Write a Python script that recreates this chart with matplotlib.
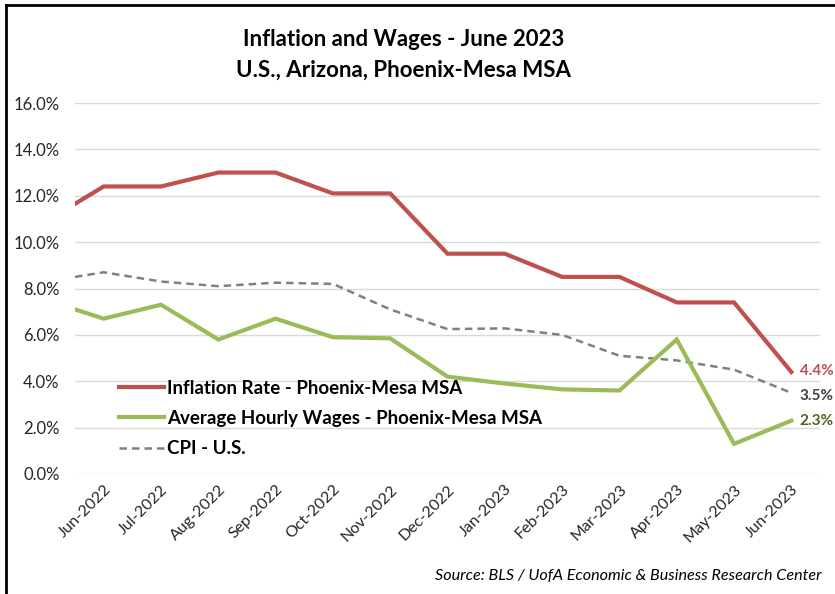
import matplotlib
matplotlib.use("Agg")
import matplotlib.pyplot as plt
import numpy as np
from matplotlib.lines import Line2D

plt.rcParams['font.family'] = ['Lato', 'DejaVu Sans']

# Data
months = ["Jun-2022", "Jul-2022", "Aug-2022", "Sep-2022", "Oct-2022", "Nov-2022",
          "Dec-2022", "Jan-2023", "Feb-2023", "Mar-2023", "Apr-2023", "May-2023", "Jun-2023"]
# value where each line enters at the left edge of the plot area
edge_inflation = 11.65
edge_wages = 7.1
edge_cpi = 8.5
inflation_phx = [12.4, 12.4, 13.0, 13.0, 12.1, 12.1, 9.5, 9.5, 8.5, 8.5, 7.4, 7.4, 4.4]
wages_phx = [6.7, 7.3, 5.8, 6.7, 5.9, 5.85, 4.2, 3.9, 3.65, 3.6, 5.8, 1.3, 2.3]
cpi_us = [8.7, 8.3, 8.1, 8.25, 8.2, 7.1, 6.25, 6.28, 6.0, 5.1, 4.9, 4.5, 3.5]
y_ticks = [0, 2, 4, 6, 8, 10, 12, 14, 16]

RED = "#C0504D"
GREEN = "#9BBB59"
GRAY = "#808080"

fig = plt.figure(figsize=(8.35, 5.94), dpi=100)
W, H = 835, 594
ax = fig.add_axes([75 / W, 1 - 474 / H, (820 - 75) / W, (474 - 103) / H])

n = len(months)
xlo, xhi = -0.5, n - 0.5
xs = np.r_[xlo, np.arange(n)]

ax.plot(xs, [edge_inflation] + inflation_phx, color=RED, lw=3, solid_joinstyle='miter', zorder=4)
ax.plot(xs, [edge_wages] + wages_phx, color=GREEN, lw=3, solid_joinstyle='miter', zorder=4)
ax.plot(xs, [edge_cpi] + cpi_us, color=GRAY, lw=1.8, ls=(0, (3, 2)), zorder=3)

ax.set_xlim(xlo, xhi)
ax.set_ylim(0, 16)
ax.set_yticks(y_ticks)
ax.set_yticklabels([f"{v:.1f}%" for v in y_ticks], fontsize=12, color="#262626")
ax.set_xticks(np.arange(n))
ax.set_xticklabels(months, rotation=45, ha='right', rotation_mode='anchor', fontsize=11.5, color="#262626")
ax.tick_params(axis='both', length=0)
ax.tick_params(axis='y', pad=11)
ax.tick_params(axis='x', pad=6)
for s in ax.spines.values():
    s.set_visible(False)
ax.grid(axis='y', color="#D9D9D9", lw=1)
ax.set_axisbelow(True)

# end labels
ax.annotate(f"{inflation_phx[-1]:.1f}%", (n - 1, inflation_phx[-1]), xytext=(6, 1), textcoords='offset points',
            va='center', ha='left', fontsize=11, fontweight='bold', color=RED)
ax.annotate(f"{cpi_us[-1]:.1f}%", (n - 1, cpi_us[-1]), xytext=(6, -2), textcoords='offset points',
            va='center', ha='left', fontsize=11, fontweight='bold', color="#404040")
ax.annotate(f"{wages_phx[-1]:.1f}%", (n - 1, wages_phx[-1]), xytext=(6, 0), textcoords='offset points',
            va='center', ha='left', fontsize=11, fontweight='bold', color="#4F6228")

handles = [Line2D([], [], color=RED, lw=3),
           Line2D([], [], color=GREEN, lw=3),
           Line2D([], [], color=GRAY, lw=1.8, ls=(0, (3, 2)))]
labels = ["Inflation Rate - Phoenix-Mesa MSA", "Average Hourly Wages - Phoenix-Mesa MSA", "CPI - U.S."]
leg = ax.legend(handles, labels, loc='upper left', bbox_to_anchor=((111 - 75) / (820 - 75), (474 - 372) / (474 - 103)),
                frameon=False, prop={'weight': 'bold', 'size': 13.5}, handlelength=2.4, handletextpad=0.2,
                labelspacing=0.72, borderaxespad=0)

fig.text(404 / W, 1 - 40 / H, "Inflation and Wages - June 2023", ha='center', va='center',
         fontsize=16, fontweight='bold', color="#000000")
fig.text(404 / W, 1 - 70 / H, "U.S., Arizona, Phoenix-Mesa MSA", ha='center', va='center',
         fontsize=16, fontweight='bold', color="#000000")
fig.text(822 / W, 1 - 576 / H, "Source: BLS / UofA Economic & Business Research Center", ha='right', va='center',
         fontsize=11.6, style='italic', color="#000000")

# border (top and left visible)
fig.add_artist(Line2D([6 / W, 6 / W], [0, 1 - 5 / H], color='black', lw=2, transform=fig.transFigure))
fig.add_artist(Line2D([6 / W, 1], [1 - 5 / H, 1 - 5 / H], color='black', lw=2, transform=fig.transFigure))

fig.savefig("out.png", dpi=100)
